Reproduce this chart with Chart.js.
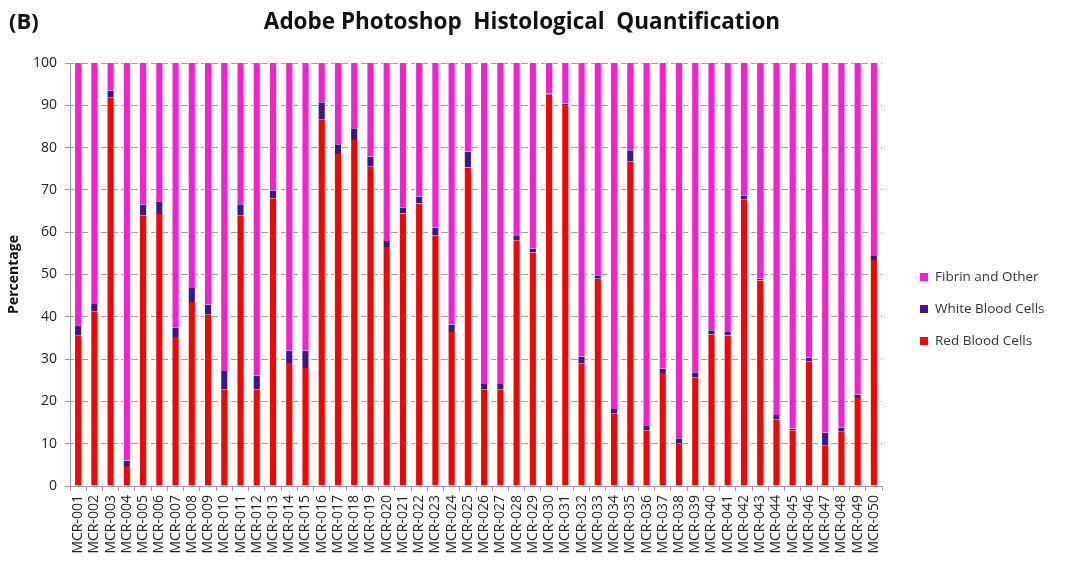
<!DOCTYPE html>
<html>
<head>
<meta charset="utf-8">
<script src="https://cdn.jsdelivr.net/npm/chart.js@4.4.0/dist/chart.umd.min.js"></script>
<style>
  html, body { margin: 0; padding: 0; background: #fff; }
  #wrap { width: 1067px; height: 562px; }
</style>
</head>
<body>
<div id="wrap"><canvas id="myChart" width="1067" height="562"></canvas></div>
<script>
var labels = [];
for (var i = 1; i <= 50; i++) labels.push('MCR-' + String(i).padStart(3, '0'));

var redBloodCells = [35.5, 41.3, 91.8, 4.7, 64.0, 64.3, 35.2, 43.5, 40.5, 22.9,
                     64.0, 22.9, 68.0, 29.1, 27.9, 86.6, 78.5, 81.8, 75.5, 56.5,
                     64.4, 66.8, 59.3, 36.4, 75.3, 22.9, 22.9, 58.1, 55.2, 92.5,
                     89.9, 29.0, 49.0, 17.2, 76.8, 13.2, 26.7, 10.0, 25.7, 35.8,
                     35.6, 67.7, 48.6, 15.8, 13.2, 29.5, 9.5, 12.8, 20.8, 53.4];
var whiteBloodCells = [2.5, 1.7, 1.7, 1.3, 2.5, 3.0, 2.2, 3.3, 2.4, 4.3,
                       2.6, 3.2, 1.8, 2.9, 4.1, 4.1, 2.3, 2.8, 2.4, 1.4,
                       1.4, 1.6, 1.8, 1.8, 3.8, 1.2, 1.2, 1.0, 0.9, 0.3,
                       0.5, 1.6, 0.8, 1.0, 2.6, 1.0, 1.0, 1.3, 1.2, 1.0,
                       0.8, 0.9, 0.4, 1.0, 0.4, 0.9, 3.1, 1.0, 0.8, 1.0];
var fibrinOther = [62.0, 57.0, 6.5, 94.0, 33.5, 32.7, 62.6, 53.2, 57.1, 72.8,
                   33.4, 73.9, 30.2, 68.0, 68.0, 9.3, 19.2, 15.4, 22.1, 42.1,
                   34.2, 31.6, 38.9, 61.8, 20.9, 75.9, 75.9, 40.9, 43.9, 7.2,
                   9.6, 69.4, 50.2, 81.8, 20.6, 85.8, 72.3, 88.7, 73.1, 63.2,
                   63.6, 31.4, 51.0, 83.2, 86.4, 69.6, 87.4, 86.2, 78.4, 45.6];

var FONT = "'Open Sans', 'Noto Sans', sans-serif";

// title, panel letter and legend drawn on the canvas
var decor = {
    id: 'decor',
    afterDraw: function(chart) {
        var c = chart.ctx;
        c.save();
        c.fillStyle = '#111';
        c.textBaseline = 'middle';
        c.font = 'bold 22px ' + FONT;
        c.textAlign = 'left';
        c.fillText('(B)', 9, 23);
        c.font = 'bold 22.5px ' + FONT;
        c.textAlign = 'center';
        c.fillText('Adobe Photoshop  Histological  Quantification', 522, 23);

        var items = chart.data.datasets.slice().reverse();
        c.font = '13.5px ' + FONT;
        c.textAlign = 'left';
        items.forEach(function(ds, k) {
            var y = 277 + k * 32;
            c.fillStyle = ds.backgroundColor;
            c.fillRect(920, y - 4, 8, 8);
            c.fillStyle = '#333';
            c.fillText(ds.label, 935, y);
        });
        c.restore();
    }
};

var sides = { left: 1, right: 1, top: 0, bottom: 0 };

var ctx = document.getElementById('myChart');
var chart = new Chart(ctx, {
    type: 'bar',
    data: {
        labels: labels,
        datasets: [
            { label: 'Red Blood Cells', data: redBloodCells, backgroundColor: '#ff0000' },
            { label: 'White Blood Cells', data: whiteBloodCells, backgroundColor: '#3f1493' },
            { label: 'Fibrin and Other', data: fibrinOther, backgroundColor: '#ff1ad6' }
        ]
    },
    options: {
        responsive: false,
        animation: false,
        layout: { padding: { top: 63, right: 185, left: 0, bottom: 0 } },
        datasets: { bar: { categoryPercentage: 1, barPercentage: 0.5, borderWidth: sides, borderColor: '#fff', borderSkipped: false } },
        plugins: {
            legend: { display: false },
            title: { display: false },
            tooltip: { enabled: false }
        },
        scales: {
            x: {
                stacked: true,
                afterFit: function(s) { s.height = 76; },
                grid: { drawOnChartArea: false, drawTicks: true, tickLength: 5, color: '#999' },
                border: { color: '#999' },
                ticks: {
                    minRotation: 90, maxRotation: 90, autoSkip: false, padding: 4,
                    color: '#222', font: { family: FONT, size: 14 }
                }
            },
            y: {
                stacked: true,
                min: 0, max: 100,
                afterFit: function(s) { s.width = 70; },
                grid: { color: '#a0a0a0', tickLength: 5 },
                border: { color: '#999', dash: [7, 3] },
                ticks: { stepSize: 10, color: '#222', padding: 8, font: { family: FONT, size: 14 } },
                title: {
                    display: true, text: 'Percentage', color: '#111', padding: { top: 6, bottom: 0 },
                    font: { family: FONT, size: 14, weight: 'bold' }
                }
            }
        }
    },
    plugins: [decor]
});
</script>
</body>
</html>
